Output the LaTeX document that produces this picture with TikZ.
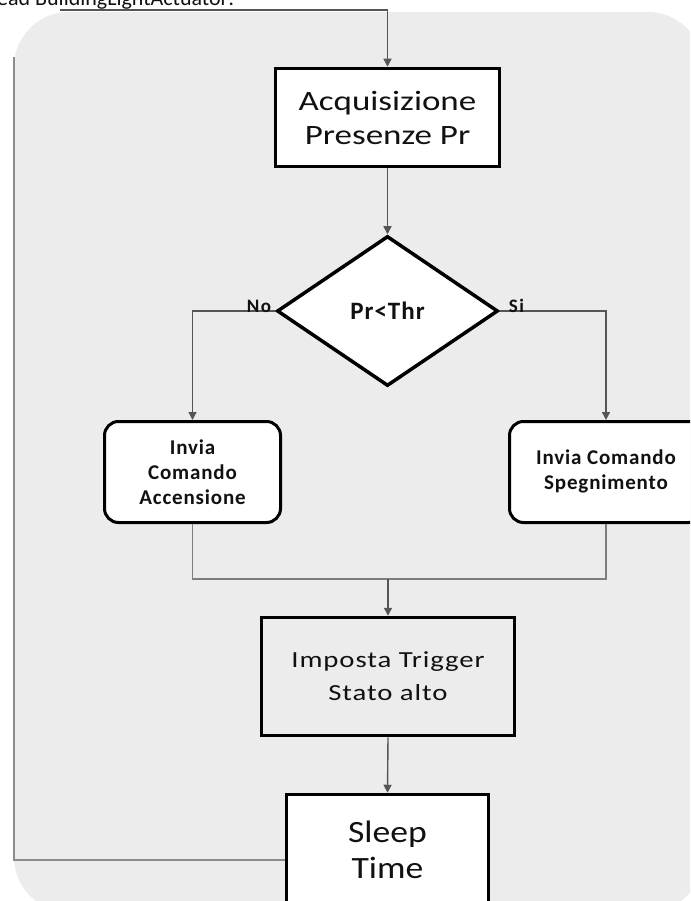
\documentclass[tikz,border=0pt]{standalone}
\usepackage{fontspec}
\setmainfont{Carlito}
\usetikzlibrary{shapes.geometric,arrows.meta}

\definecolor{panelgray}{HTML}{ECECEC}
\definecolor{linkgray}{HTML}{555555}
\definecolor{loopgray}{HTML}{8C8C8C}
\definecolor{inkblack}{HTML}{111111}

% font size with shaping: #1 size, #2 line spacing, #3 horizontal stretch, #4 letter spacing
\newcommand\shapedsize[4]{\fontsize{#1}{#2}\selectfont\addfontfeatures{FakeStretch=#3,LetterSpace=#4}}

\tikzset{
  procbox/.style={draw=black, line width=3.5pt, fill=white, inner sep=0pt,
    align=center, text=inkblack},
  cmdbox/.style={draw=black, line width=3pt, fill=white, rounded corners=14pt,
    inner sep=0pt, align=center, text=inkblack,
    font=\bfseries\shapedsize{21}{25}{1}{4}},
  testbox/.style={draw=black, line width=3.5pt, fill=white, diamond, inner sep=0pt,
    text=inkblack, font=\bfseries\shapedsize{25}{30}{1}{4}},
  link/.style={draw=linkgray, line width=1.4pt},
  flow/.style={link, -{Triangle[width=8pt,length=8pt]}},
  joinline/.style={draw=loopgray!90!black, line width=1.3pt},
  loopline/.style={draw=loopgray, line width=1.3pt},
  branchlabel/.style={font=\bfseries\shapedsize{19}{22}{1}{8}, text=inkblack, inner sep=0pt},
}

\begin{document}
\begin{tikzpicture}[x=1pt, y=-1pt]
  \useasboundingbox (0,0) rectangle (690,901);
  \clip (0,0) rectangle (690,901);

  % light panel behind the flowchart
  \fill[panelgray, rounded corners=55pt] (14,12) rectangle (703,912);

  % heading line, cut by the top edge
  \node[anchor=base west, inner sep=0pt, text=inkblack,
        font=\fontsize{22}{26}\selectfont] (hdr) at (-3,6) {ead BuildingLightActuator:};

  % flowchart blocks
  \node[procbox, minimum width=224pt, minimum height=98pt,
        font=\shapedsize{28}{34}{1.25}{0}] (acq) at (387.5,117.5)
        {Acquisizione\\Presenze Pr};
  \node[testbox, minimum width=221pt, minimum height=150pt] (dia) at (387.5,311) {Pr<Thr};
  \node[cmdbox, minimum width=176pt, minimum height=101pt] (lbox) at (192.5,472)
        {Invia\\Comando\\Accensione};
  \node[cmdbox, minimum width=193pt, minimum height=101pt] (rbox) at (606,472)
        {\raisebox{7pt}{\begin{tabular}{@{}c@{}}Invia Comando\\Spegnimento\end{tabular}}};
  \node[procbox, fill=panelgray, minimum width=253pt, minimum height=118pt,
        font=\shapedsize{23}{33}{1.25}{4}] (trig) at (388,676.5)
        {Imposta Trigger\\Stato alto};
  \node[procbox, minimum width=202pt, minimum height=111pt,
        font=\shapedsize{31}{36}{1.15}{0}] (sleep) at (387.5,850)
        {Sleep\\Time};

  % helper points for the routing
  \coordinate (join) at (388,579);
  \coordinate (sleepL) at ([yshift=-10pt]sleep.west);
  \coordinate (loopL) at (14,57);
  \coordinate (loopT) at (60,10);

  % main flow
  \draw[flow] (acq.south) -- (dia.north);
  \draw[flow] (dia.west) -- (lbox.north |- dia.west) -- (lbox.north);
  \draw[flow] (dia.east) -- (rbox.north |- dia.east) -- (rbox.north);
  \draw[joinline] (lbox.south) -- (lbox.south |- join) -- (rbox.south |- join) -- (rbox.south);
  \draw[flow] (join) -- (trig.north);
  \draw[flow] (trig.south) -- (sleep.north);

  % return path from Sleep Time back to the acquisition
  \draw[loopline] (sleepL) -- (loopL |- sleepL) -- (loopL);
  \draw[flow] (loopT) -- (acq.north |- loopT) -- (acq.north);

  % branch labels
  \node[branchlabel, anchor=base east] (lno) at ([xshift=-4pt,yshift=-1pt]dia.west) {No};
  \node[branchlabel, anchor=base west] (lsi) at ([xshift=9pt,yshift=-1pt]dia.east) {Si};
\end{tikzpicture}
\end{document}
